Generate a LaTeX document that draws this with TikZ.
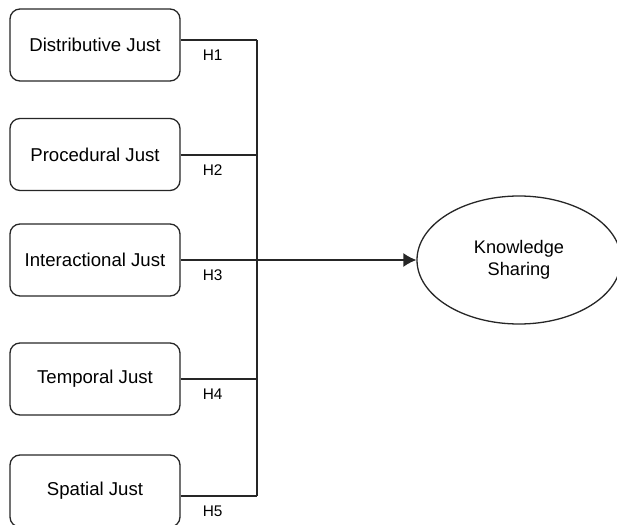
\documentclass[tikz,border=0pt]{standalone}
\usepackage{fontspec}
\setmainfont{Liberation Sans}
\usepackage{tikz}
\usetikzlibrary{shapes.geometric}
\usetikzlibrary{arrows.meta}

\begin{document}
\begin{tikzpicture}[x=0.5pt,y=-0.5pt,line width=0.65pt,draw=black!85]
    \tikzstyle{construct}=[draw, rounded corners=5pt, minimum width=85pt, minimum height=36pt, font=\fontsize{9.3}{11}\selectfont]
    \tikzstyle{outcome}=[draw, ellipse, minimum width=102pt, minimum height=64pt, align=center, font=\fontsize{9.1}{11}\selectfont]
    \tikzstyle{hyp}=[below, inner sep=2pt, yshift=-2.5pt, font=\fontsize{7.7}{9}\selectfont]
    \useasboundingbox (0,0) rectangle (617,525);

    \node[construct] (dist) at (95,45) {Distributive Just};
    \node[construct] (proc) at (95,154.5) {Procedural Just};
    \node[construct] (inter) at (95,260) {Interactional Just};
    \node[construct] (temp) at (95,379) {Temporal Just};
    \node[construct] (spat) at (95,491) {Spatial Just};
    \node[outcome] (ks) at (519,260) {Knowledge\\Sharing};

    \coordinate (j1) at (257,40);
    \coordinate (j2) at (257,155);
    \coordinate (j3) at (257,260);
    \coordinate (j4) at (257,379);
    \coordinate (j5) at (257,496);

    \draw (dist.east |- j1) -- node[hyp, pos=0.42] {H1} (j1);
    \draw (proc.east |- j2) -- node[hyp, pos=0.42] {H2} (j2);
    \draw (inter.east |- j3) -- node[hyp, pos=0.42] {H3} (j3);
    \draw (temp.east |- j4) -- node[hyp, pos=0.42] {H4} (j4);
    \draw (spat.east |- j5) -- node[hyp, pos=0.42] {H5} (j5);
    \draw (j1) -- (j5);
    \draw[-{Latex[length=6.5pt,width=7pt]}] (j3) -- (ks.west);
\end{tikzpicture}
\end{document}
